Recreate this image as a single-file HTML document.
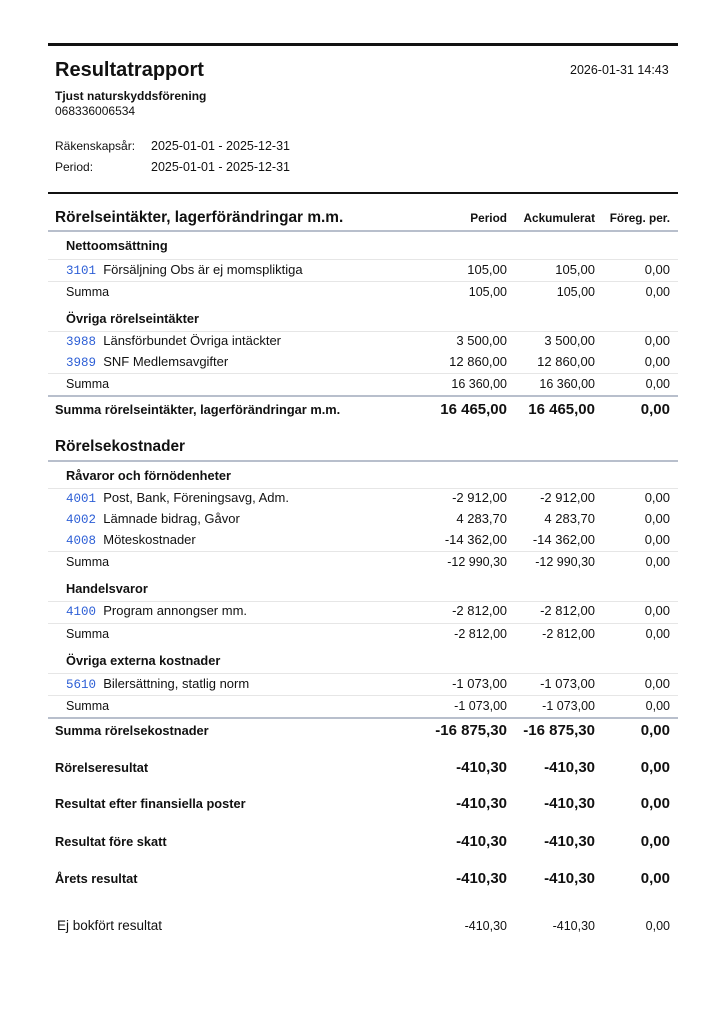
<!DOCTYPE html>
<html><head><meta charset="utf-8"><style>
body{margin:0;width:724px;height:1024px;background:#fff;font-family:"Liberation Sans",Arial,sans-serif;color:#111;position:relative;overflow:hidden}
.a{position:absolute;white-space:nowrap;line-height:16px}
.r{position:absolute;left:48px;width:630px;height:16px;line-height:16px;font-size:13px}
.r span{position:absolute;top:0;white-space:nowrap}
.c1{right:171px}.c2{right:83px}.c3{right:8px}
.code{font-family:"Liberation Mono",monospace;color:#2d5fd6;font-size:12.5px;font-weight:normal}
.hl{position:absolute;left:48px;width:630px;height:1px;background:#e6e6e6}
.bl{position:absolute;left:48px;width:630px;height:2px;background:#b8bfcc}
.b{font-weight:bold}
.s{font-size:12.5px}
.lb{font-size:12.8px}
.bv{font-size:15px}
.h{font-size:15.4px;font-weight:bold}
.ch{font-size:11.8px;font-weight:bold}
</style></head><body>
<div style="position:absolute;left:48px;top:43px;width:630px;height:3px;background:#111"></div>
<div class="a b" style="left:55px;top:59px;font-size:20px;line-height:22px">Resultatrapport</div>
<div class="a" style="left:570px;top:62px;font-size:12.5px">2026-01-31 14:43</div>
<div class="a b" style="left:55px;top:88px;font-size:12px">Tjust naturskyddsförening</div>
<div class="a" style="left:55px;top:103px;font-size:12px">068336006534</div>
<div class="a" style="left:55px;top:138px;font-size:12px">Räkenskapsår:</div>
<div class="a" style="left:151px;top:138px;font-size:12.5px">2025-01-01 - 2025-12-31</div>
<div class="a" style="left:55px;top:159px;font-size:12px">Period:</div>
<div class="a" style="left:151px;top:159px;font-size:12.5px">2025-01-01 - 2025-12-31</div>
<div style="position:absolute;left:48px;top:192px;width:630px;height:2px;background:#111"></div>

<div class="r" style="top:210px"><span class="h" style="left:7px">Rörelseintäkter, lagerförändringar m.m.</span><span class="c1 ch">Period</span><span class="c2 ch">Ackumulerat</span><span class="c3 ch">Föreg. per.</span></div>
<div class="bl" style="top:230px"></div>
<div class="r" style="top:238px"><span class="b lb" style="left:18px">Nettoomsättning</span></div>
<div class="hl" style="top:259px"></div>
<div class="r" style="top:262px"><span style="left:18px"><b class="code">3101</b>&nbsp; Försäljning Obs är ej momspliktiga</span><span class="c1">105,00</span><span class="c2">105,00</span><span class="c3">0,00</span></div>
<div class="hl" style="top:281px"></div>
<div class="r s" style="top:284px"><span style="left:18px">Summa</span><span class="c1">105,00</span><span class="c2">105,00</span><span class="c3">0,00</span></div>
<div class="r" style="top:311px"><span class="b lb" style="left:18px">Övriga rörelseintäkter</span></div>
<div class="hl" style="top:331px"></div>
<div class="r" style="top:333px"><span style="left:18px"><b class="code">3988</b>&nbsp; Länsförbundet Övriga intäckter</span><span class="c1">3 500,00</span><span class="c2">3 500,00</span><span class="c3">0,00</span></div>
<div class="r" style="top:354px"><span style="left:18px"><b class="code">3989</b>&nbsp; SNF Medlemsavgifter</span><span class="c1">12 860,00</span><span class="c2">12 860,00</span><span class="c3">0,00</span></div>
<div class="hl" style="top:373px"></div>
<div class="r s" style="top:376px"><span style="left:18px">Summa</span><span class="c1">16 360,00</span><span class="c2">16 360,00</span><span class="c3">0,00</span></div>
<div class="bl" style="top:395px"></div>
<div class="r b" style="top:402px"><span class="lb" style="left:7px">Summa rörelseintäkter, lagerförändringar m.m.</span><span class="c1 bv">16 465,00</span><span class="c2 bv">16 465,00</span><span class="c3 bv">0,00</span></div>

<div class="r" style="top:439px"><span class="h" style="left:7px">Rörelsekostnader</span></div>
<div class="bl" style="top:460px"></div>
<div class="r" style="top:468px"><span class="b lb" style="left:18px">Råvaror och förnödenheter</span></div>
<div class="hl" style="top:488px"></div>
<div class="r" style="top:490px"><span style="left:18px"><b class="code">4001</b>&nbsp; Post, Bank, Föreningsavg, Adm.</span><span class="c1">-2 912,00</span><span class="c2">-2 912,00</span><span class="c3">0,00</span></div>
<div class="r" style="top:511px"><span style="left:18px"><b class="code">4002</b>&nbsp; Lämnade bidrag, Gåvor</span><span class="c1">4 283,70</span><span class="c2">4 283,70</span><span class="c3">0,00</span></div>
<div class="r" style="top:532px"><span style="left:18px"><b class="code">4008</b>&nbsp; Möteskostnader</span><span class="c1">-14 362,00</span><span class="c2">-14 362,00</span><span class="c3">0,00</span></div>
<div class="hl" style="top:551px"></div>
<div class="r s" style="top:554px"><span style="left:18px">Summa</span><span class="c1">-12 990,30</span><span class="c2">-12 990,30</span><span class="c3">0,00</span></div>
<div class="r" style="top:581px"><span class="b lb" style="left:18px">Handelsvaror</span></div>
<div class="hl" style="top:601px"></div>
<div class="r" style="top:603px"><span style="left:18px"><b class="code">4100</b>&nbsp; Program annongser mm.</span><span class="c1">-2 812,00</span><span class="c2">-2 812,00</span><span class="c3">0,00</span></div>
<div class="hl" style="top:623px"></div>
<div class="r s" style="top:626px"><span style="left:18px">Summa</span><span class="c1">-2 812,00</span><span class="c2">-2 812,00</span><span class="c3">0,00</span></div>
<div class="r" style="top:653px"><span class="b lb" style="left:18px">Övriga externa kostnader</span></div>
<div class="hl" style="top:673px"></div>
<div class="r" style="top:676px"><span style="left:18px"><b class="code">5610</b>&nbsp; Bilersättning, statlig norm</span><span class="c1">-1 073,00</span><span class="c2">-1 073,00</span><span class="c3">0,00</span></div>
<div class="hl" style="top:695px"></div>
<div class="r s" style="top:698px"><span style="left:18px">Summa</span><span class="c1">-1 073,00</span><span class="c2">-1 073,00</span><span class="c3">0,00</span></div>
<div class="bl" style="top:717px"></div>
<div class="r b" style="top:723px"><span class="lb" style="left:7px">Summa rörelsekostnader</span><span class="c1 bv">-16 875,30</span><span class="c2 bv">-16 875,30</span><span class="c3 bv">0,00</span></div>

<div class="r b" style="top:760px"><span class="lb" style="left:7px">Rörelseresultat</span><span class="c1 bv">-410,30</span><span class="c2 bv">-410,30</span><span class="c3 bv">0,00</span></div>
<div class="r b" style="top:796px"><span class="lb" style="left:7px">Resultat efter finansiella poster</span><span class="c1 bv">-410,30</span><span class="c2 bv">-410,30</span><span class="c3 bv">0,00</span></div>
<div class="r b" style="top:834px"><span class="lb" style="left:7px">Resultat före skatt</span><span class="c1 bv">-410,30</span><span class="c2 bv">-410,30</span><span class="c3 bv">0,00</span></div>
<div class="r b" style="top:871px"><span class="lb" style="left:7px">Årets resultat</span><span class="c1 bv">-410,30</span><span class="c2 bv">-410,30</span><span class="c3 bv">0,00</span></div>
<div class="r" style="top:918px"><span style="left:9px;font-size:13.5px">Ej bokfört resultat</span><span class="c1 s">-410,30</span><span class="c2 s">-410,30</span><span class="c3 s">0,00</span></div>
</body></html>
